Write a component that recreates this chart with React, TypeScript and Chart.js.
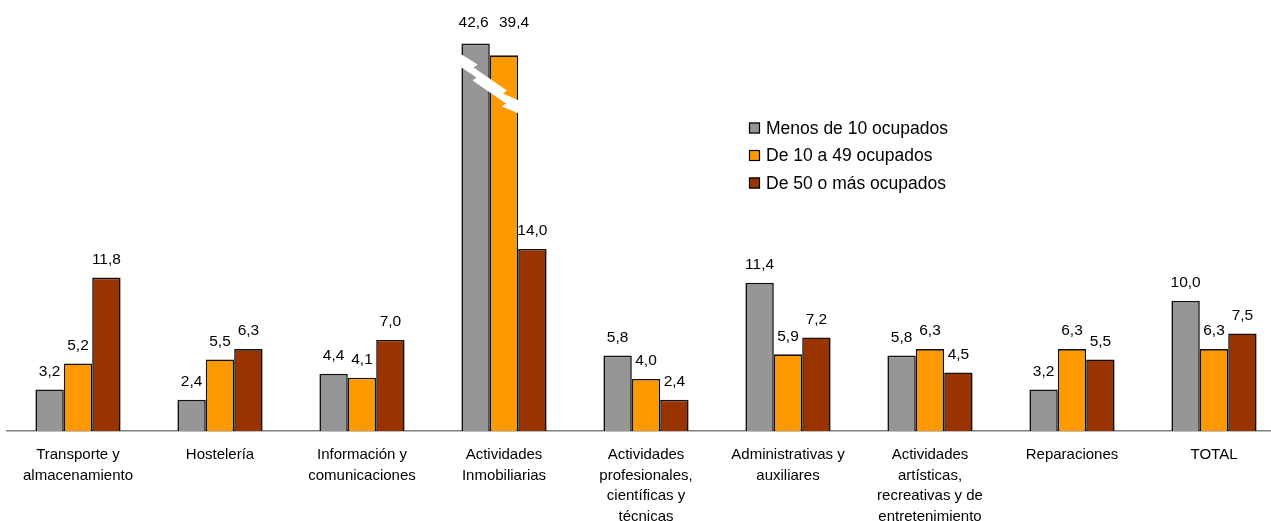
import React, { useEffect, useRef } from "react";
import { Chart, registerables } from "chart.js";

Chart.register(...registerables);

const categories: string[][] = [
  ["Transporte y", "almacenamiento"],
  ["Hostelería"],
  ["Información y", "comunicaciones"],
  ["Actividades", "Inmobiliarias"],
  ["Actividades", "profesionales,", "científicas y", "técnicas"],
  ["Administrativas y", "auxiliares"],
  ["Actividades", "artísticas,", "recreativas y de", "entretenimiento"],
  ["Reparaciones"],
  ["TOTAL"],
];

const seriesNames = ["Menos de 10 ocupados", "De 10 a 49 ocupados", "De 50 o más ocupados"];
const seriesColors = ["#969696", "#FF9900", "#993300"];

const menos10 = [3.2, 2.4, 4.4, 42.6, 5.8, 11.4, 5.8, 3.2, 10.0];
const de10a49 = [5.2, 5.5, 4.1, 39.4, 4.0, 5.9, 6.3, 6.3, 6.3];
const de50 = [11.8, 6.3, 7.0, 14.0, 2.4, 7.2, 4.5, 5.5, 7.5];

// The category whose bars are cut (broken axis) and the heights at which they are drawn
const brokenIndex = 3;
const brokenHeights: (number | null)[] = [29.8, 28.9, null];

const yMax = 33;

const FONT = "'Liberation Sans', Arial, sans-serif";

const fmt = (v: number) => v.toFixed(1).replace(".", ",");

const allSeries = [menos10, de10a49, de50];

const drawnData = allSeries.map((vals, s) =>
  vals.map((v, i) => (i === brokenIndex && brokenHeights[s] != null ? (brokenHeights[s] as number) : v))
);

const labelsPlugin = {
  id: "valueLabels",
  afterDatasetsDraw(chart: any) {
    const ctx = chart.ctx;
    ctx.save();
    ctx.font = `15.5px ${FONT}`;
    ctx.fillStyle = "#000";
    ctx.textAlign = "center";
    ctx.textBaseline = "middle";
    const brokenTop = chart.getDatasetMeta(0).data[brokenIndex]?.y ?? 0;
    chart.data.datasets.forEach((ds: any, di: number) => {
      const meta = chart.getDatasetMeta(di);
      meta.data.forEach((el: any, i: number) => {
        const real = ds.realValues[i];
        let x = el.x;
        let y = el.y - 18;
        if (i === brokenIndex && brokenHeights[di] != null) {
          // labels of cut bars share one line above the tallest bar, spread apart
          y = brokenTop - 21;
          x = el.x + (di === 0 ? -2 : 10);
        }
        ctx.fillText(fmt(real), x, y);
      });
    });
    ctx.restore();
  },
};

const breakPlugin = {
  id: "axisBreak",
  afterDatasetsDraw(chart: any) {
    const g = chart.getDatasetMeta(0).data[brokenIndex];
    const o = chart.getDatasetMeta(1).data[brokenIndex];
    if (!g || !o) return;
    const L = g.x - g.width / 2;
    const R = o.x + o.width / 2;
    const k = (R - L) / 56;
    const T = g.y;
    const pts: [number, number][] = [
      [-3, 9], [16, 21], [12, 24], [45, 47], [41, 50], [59, 58],
      [59, 71], [40, 63], [44, 60], [11, 37], [15, 34], [-3, 22],
    ];
    const ctx = chart.ctx;
    ctx.save();
    ctx.fillStyle = "#FFFFFF";
    ctx.beginPath();
    pts.forEach(([dx, dy], idx) => {
      const x = L + dx * k;
      const y = T + dy;
      if (idx === 0) ctx.moveTo(x, y);
      else ctx.lineTo(x, y);
    });
    ctx.closePath();
    ctx.fill();
    ctx.restore();
  },
};

const legendPlugin = {
  id: "customLegend",
  afterDraw(chart: any) {
    const ctx = chart.ctx;
    const x0 = 749;
    const y0 = 128;
    const gap = 27.5;
    ctx.save();
    ctx.font = `17.5px ${FONT}`;
    ctx.textBaseline = "middle";
    ctx.textAlign = "left";
    chart.data.datasets.forEach((ds: any, i: number) => {
      const cy = y0 + i * gap;
      ctx.fillStyle = ds.backgroundColor;
      ctx.fillRect(x0, cy - 5.5, 11, 11);
      ctx.strokeStyle = "#000";
      ctx.lineWidth = 1.2;
      ctx.strokeRect(x0 + 0.5, cy - 5, 10, 10);
      ctx.fillStyle = "#000";
      ctx.fillText(ds.label, x0 + 17, cy + 1);
    });
    ctx.restore();
  },
};

export default function App() {
  const ref = useRef<HTMLCanvasElement | null>(null);

  useEffect(() => {
    if (!ref.current) return;
    const chart = new Chart(ref.current, {
      type: "bar",
      data: {
        labels: categories as any,
        datasets: allSeries.map((vals, s) => ({
          label: seriesNames[s],
          data: drawnData[s],
          realValues: vals,
          backgroundColor: seriesColors[s],
          borderColor: "#111",
          borderWidth: 1.6,
          categoryPercentage: 0.6,
          barPercentage: 1.0,
        })) as any,
      },
      options: {
        animation: false,
        responsive: false,
        devicePixelRatio: 1,
        layout: { padding: { left: 7, right: 0, top: 2, bottom: 0 } },
        plugins: {
          legend: { display: false },
          tooltip: { enabled: false },
          title: { display: false },
        },
        scales: {
          x: {
            grid: { display: false },
            border: { display: true, color: "#808080", width: 1.5 },
            ticks: {
              color: "#000",
              font: { family: FONT, size: 15, lineHeight: 1.36 },
              padding: 6,
              maxRotation: 0,
              minRotation: 0,
              autoSkip: false,
            },
            afterFit: (scale: any) => {
              scale.height = 90;
            },
          },
          y: {
            display: false,
            min: 0,
            max: yMax,
          },
        },
      },
      plugins: [breakPlugin, labelsPlugin, legendPlugin],
    });
    return () => chart.destroy();
  }, []);

  return (
    <div
      style={{
        position: "fixed",
        left: 0,
        top: 0,
        width: 1271,
        height: 521,
        overflow: "hidden",
        background: "#fff",
      }}
    >
      <canvas ref={ref} width={1285} height={521} style={{ width: 1285, height: 521, display: "block" }} />
    </div>
  );
}
